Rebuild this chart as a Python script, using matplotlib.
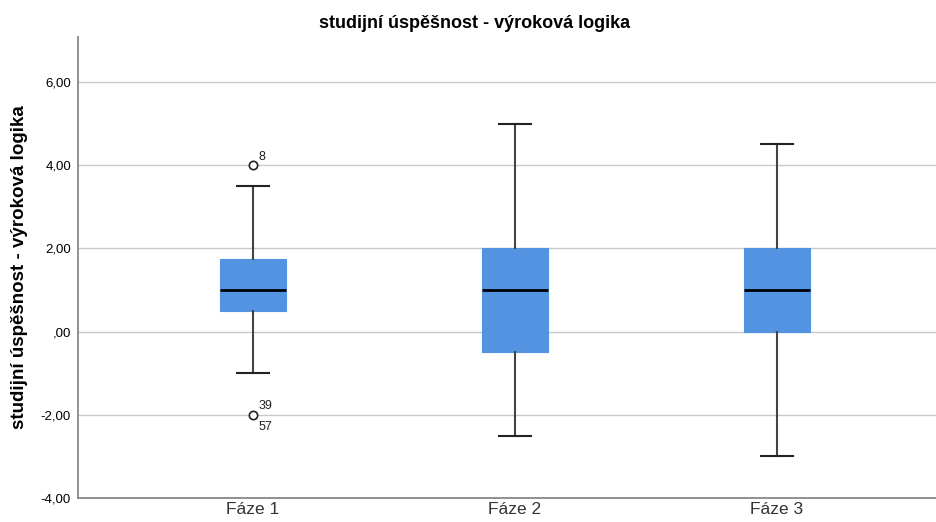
import matplotlib
matplotlib.use("Agg")
import matplotlib.pyplot as plt

plt.rcParams["font.family"] = ["Liberation Sans", "DejaVu Sans"]

# ── Data ──────────────────────────────────────────────────────────────────────
PHASES      = ["Fáze 1", "Fáze 2", "Fáze 3"]
WHISK_LO    = [-1.0, -2.5, -3.0]
Q1          = [0.5, -0.5, 0.0]
MEDIAN      = [1.0, 1.0, 1.0]
Q3          = [1.75, 2.0, 2.0]
WHISK_HI    = [3.5, 5.0, 4.5]
OUTLIERS    = [[4.0, -2.0], [], []]
OUT_LABELS  = [[("8", 4.0, "up"), ("39", -2.0, "up"), ("57", -2.0, "down")], [], []]
YTICKS      = [-4, -2, 0, 2, 4, 6]
YTICKLABELS = ["-4,00", "-2,00", ",00", "2,00", "4,00", "6,00"]
TITLE       = "studijní úspěšnost - výroková logika"
YLABEL      = "studijní úspěšnost - výroková logika"

BOX_COLOR = "#5294E2"

fig = plt.figure(figsize=(9.36, 5.22), dpi=100)
ax = fig.add_axes([78 / 936, 1 - 498 / 522, 1 - 78 / 936, (498 - 37) / 522])

stats = []
for i, name in enumerate(PHASES):
    stats.append({
        "label": name, "whislo": WHISK_LO[i], "q1": Q1[i], "med": MEDIAN[i],
        "q3": Q3[i], "whishi": WHISK_HI[i], "fliers": OUTLIERS[i],
    })

positions = list(range(1, len(PHASES) + 1))
ax.bxp(
    stats, positions=positions, widths=0.25, capwidths=0.123,
    patch_artist=True, showfliers=True,
    boxprops=dict(facecolor=BOX_COLOR, edgecolor=BOX_COLOR, linewidth=0.8),
    medianprops=dict(color="black", linewidth=2),
    whiskerprops=dict(color="#444444", linewidth=1.5),
    capprops=dict(color="#222222", linewidth=1.5),
    flierprops=dict(marker="o", markersize=6, markerfacecolor="white",
                    markeredgecolor="#222222", markeredgewidth=1.2),
    zorder=3,
)

# outlier case labels
for i, labels in enumerate(OUT_LABELS):
    for txt, val, side in labels:
        dy = 0.2 if side == "up" else -0.3
        ax.text(positions[i] + 0.02, val + dy, txt, fontsize=9,
                ha="left", va="center", color="#222222")

ax.set_xlim(0.332, 3.607)
ax.set_ylim(-4, 7.08)
ax.set_yticks(YTICKS)
ax.set_yticklabels(YTICKLABELS, fontsize=9.5)
ax.set_xticks(positions)
ax.set_xticklabels(PHASES, fontsize=12.5, color="#333333")
ax.tick_params(axis="both", length=0, pad=5)
ax.tick_params(axis="x", pad=3)

ax.grid(axis="y", color="#c8c8c8", linewidth=1, zorder=0)
ax.set_axisbelow(True)
for side in ["top", "right"]:
    ax.spines[side].set_visible(False)
for side in ["left", "bottom"]:
    ax.spines[side].set_color("#888888")
    ax.spines[side].set_linewidth(1.3)

fig.text(20 / 936, 1 - 267 / 522, YLABEL, fontsize=13.5, fontweight="bold",
         rotation=90, ha="center", va="center")
fig.text(475 / 936, 1 - 24 / 522, TITLE, fontsize=13, fontweight="bold",
         ha="center", va="center")

fig.savefig("out.png", dpi=100, facecolor="white")
